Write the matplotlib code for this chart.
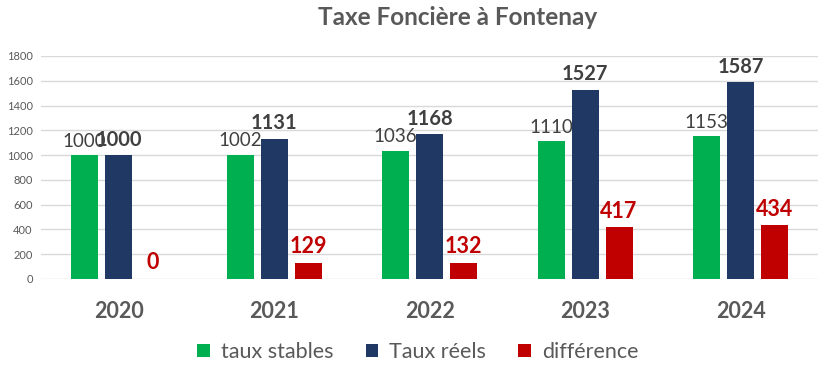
import numpy as np
import matplotlib.pyplot as plt

plt.rcParams['font.family'] = ['Lato', 'DejaVu Sans']

years = ["2020", "2021", "2022", "2023", "2024"]
taux_stables = [1000, 1002, 1036, 1110, 1153]
taux_reels = [1000, 1131, 1168, 1527, 1587]
difference = [0, 129, 132, 417, 434]

series = [
    ("taux stables", taux_stables, "#00B050", dict(color="#404040", fontsize=13.5, fontweight="normal")),
    ("Taux réels", taux_reels, "#1F3864", dict(color="#404040", fontsize=14.5, fontweight="bold")),
    ("différence", difference, "#C00000", dict(color="#C00000", fontsize=15.5, fontweight="bold")),
]

fig = plt.figure(figsize=(8.29, 3.77), dpi=100)
ax = fig.add_axes([0.0495, 0.26, 0.9375, 0.5915])

x = np.arange(len(years))
width = 0.174
step = 0.219

for i, (name, vals, color, lbl) in enumerate(series):
    pos = x + (i - 1) * step
    bars = ax.bar(pos, vals, width=width, color=color, label=name, zorder=3)
    for b, v in zip(bars, vals):
        ax.annotate(str(v), (b.get_x() + b.get_width() / 2, v),
                    xytext=(0, 4), textcoords="offset points",
                    ha="center", va="bottom", zorder=4, **lbl)

ax.set_xlim(-0.5, len(years) - 0.5)
ax.set_ylim(0, 1800)
ax.set_yticks(range(0, 1801, 200))
ax.yaxis.grid(True, color="#D9D9D9", linewidth=1, zorder=0)
ax.set_axisbelow(True)
for s in ax.spines.values():
    s.set_visible(False)
ax.tick_params(axis="y", length=0, labelsize=8, labelcolor="#595959", pad=6)
ax.tick_params(axis="x", length=0, pad=16)
ax.set_xticks(x)
ax.set_xticklabels(years, fontsize=15.5, fontweight="bold", color="#595959")

fig.suptitle("Taxe Foncière à Fontenay", x=0.552, y=0.985, fontsize=17.5,
             fontweight="bold", color="#595959")

fig.legend(loc="center", bbox_to_anchor=(0.504, 0.066), ncol=3, frameon=False,
           fontsize=15.5, labelcolor="#595959", handlelength=0.6, handleheight=0.6,
           handletextpad=0.5, columnspacing=1.5)

fig.savefig("out.png", dpi=100)
